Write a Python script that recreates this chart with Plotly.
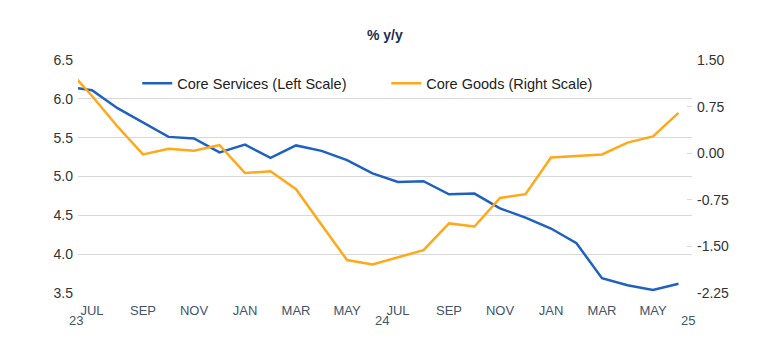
import plotly.graph_objects as go

months = ["2023-06", "2023-07", "2023-08", "2023-09", "2023-10", "2023-11", "2023-12",
          "2024-01", "2024-02", "2024-03", "2024-04", "2024-05", "2024-06",
          "2024-07", "2024-08", "2024-09", "2024-10", "2024-11", "2024-12",
          "2025-01", "2025-02", "2025-03", "2025-04", "2025-05", "2025-06"]

core_services = [6.16, 6.11, 5.88, 5.70, 5.51, 5.49, 5.31,
                 5.41, 5.24, 5.40, 5.33, 5.21, 5.04,
                 4.93, 4.94, 4.77, 4.78, 4.59, 4.47,
                 4.33, 4.14, 3.69, 3.60, 3.54, 3.62]

core_goods = [1.38, 0.92, 0.43, -0.02, 0.07, 0.04, 0.13,
              -0.32, -0.29, -0.58, -1.15, -1.72, -1.79,
              -1.67, -1.56, -1.13, -1.18, -0.72, -0.66,
              -0.07, -0.04, -0.02, 0.17, 0.27, 0.65]

tick_months = ["2023-07", "2023-09", "2023-11", "2024-01", "2024-03", "2024-05",
               "2024-07", "2024-09", "2024-11", "2025-01", "2025-03", "2025-05"]
tick_text = ["JUL", "SEP", "NOV", "JAN", "MAR", "MAY",
             "JUL", "SEP", "NOV", "JAN", "MAR", "MAY"]

year_labels = ["23", "24", "25"]
year_anchor = ["2023-07", "2024-07", "2025-06"]   # category the year label hangs from
year_months_after = [0, 0, 1]                      # months beyond the anchor (Jul 25 lies past the data)

left_ticks = [3.5, 4.0, 4.5, 5.0, 5.5, 6.0, 6.5]
right_ticks = [-2.25, -1.50, -0.75, 0.00, 0.75, 1.50]

BLUE = "#1F61C0"
ORANGE = "#FFA81A"
GRID = "#D9D9D9"
FONT = "Liberation Sans, Arial"

# page has an 8px body margin; size the figure so the plot lands where the reference's does
W, H = 772, 347
PLOT_L, PLOT_R, PLOT_T, PLOT_B = 70, 684, 52, 285
MONTH_PX = 25.5

fig = go.Figure()
fig.add_trace(go.Scatter(x=months, y=core_services, mode="lines",
                         name="Core Services (Left Scale)",
                         line=dict(color=BLUE, width=2.5), yaxis="y"))
fig.add_trace(go.Scatter(x=months, y=core_goods, mode="lines",
                         name="Core Goods (Right Scale)",
                         line=dict(color=ORANGE, width=2.5), yaxis="y2"))

annotations = [dict(text="<b>% y/y</b>", xref="paper", yref="paper",
                    x=(385 - 78) / 614, y=1.0, yanchor="middle", yshift=25, showarrow=False,
                    font=dict(family=FONT, size=14, color="#1F2D50"))]
for lab, anc, extra in zip(year_labels, year_anchor, year_months_after):
    annotations.append(dict(text=lab, x=anc, xref="x", y=0, yref="paper",
                            xshift=-16 + extra * MONTH_PX, yshift=-37, showarrow=False,
                            font=dict(family=FONT, size=13, color="#44546A")))

fig.update_layout(
    width=W, height=H,
    margin=dict(l=PLOT_L, r=W - PLOT_R, t=PLOT_T, b=H - PLOT_B, autoexpand=False),
    paper_bgcolor="white", plot_bgcolor="white",
    font=dict(family=FONT, size=14, color="#333333"),
    showlegend=True,
    legend=dict(orientation="h", x=0.0965, xanchor="left", y=0.9, yanchor="middle",
                bgcolor="rgba(0,0,0,0)", font=dict(size=14.5, color="#222222"),
                entrywidth=204, entrywidthmode="pixels", itemclick=False),
    xaxis=dict(type="category", categoryorder="array", categoryarray=months,
               range=[0.45, 24.53], tickmode="array", tickvals=tick_months, ticktext=tick_text,
               showgrid=False, showline=False, zeroline=False, ticks="",
               ticklabelstandoff=8,
               tickfont=dict(size=13, color="#44546A")),
    yaxis=dict(range=[3.5, 6.5], tickmode="array", tickvals=left_ticks,
               ticktext=[f"{v:.1f}" for v in left_ticks],
               showgrid=True, gridcolor=GRID, gridwidth=1, zeroline=False, showline=False,
               ticks="", ticklabelstandoff=4, tickfont=dict(size=14, color="#333333")),
    yaxis2=dict(range=[-2.25, 1.5], overlaying="y", side="right", tickmode="array",
                tickvals=right_ticks, ticktext=[f"{v:.2f}" for v in right_ticks],
                showgrid=False, zeroline=False, showline=False,
                ticks="inside", ticklen=5, tickcolor=GRID, tickwidth=1,
                ticklabelstandoff=4,
                tickfont=dict(size=14, color="#333333")),
    annotations=annotations,
)

fig.write_html("out.html")
